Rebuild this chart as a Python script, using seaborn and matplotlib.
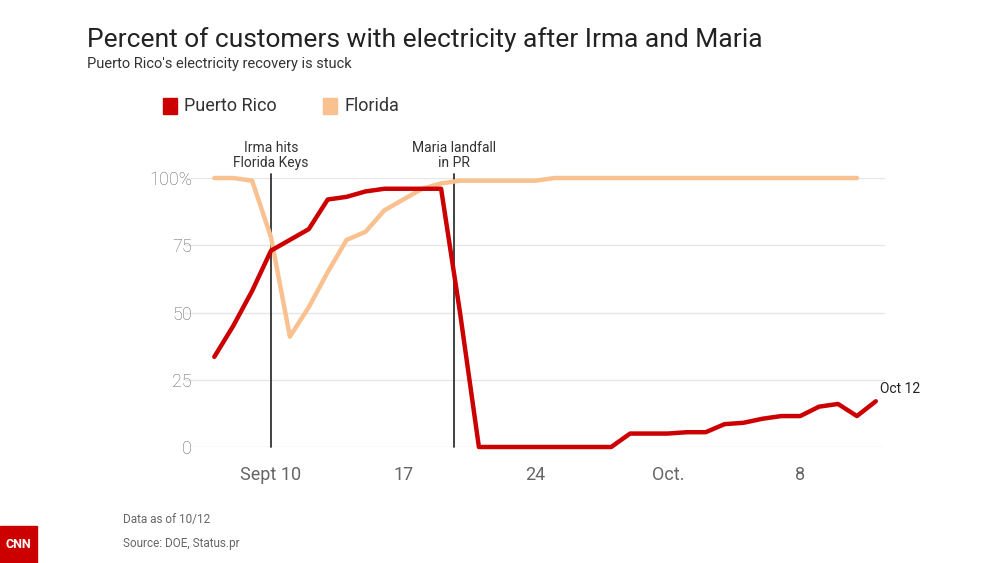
import matplotlib
matplotlib.use("Agg")
import matplotlib.pyplot as plt
import seaborn as sns
import pandas as pd
from matplotlib.patches import Rectangle

sns.set_theme(style="white")
plt.rcParams['font.family'] = ['Roboto', 'DejaVu Sans']

# day offset from Sept 10
pr_days = list(range(-3, 33))
pr_vals = [33.5, 45, 58, 73, 77, 81, 92, 93, 95, 96, 96, 96, 96, 50,
           0, 0, 0, 0, 0, 0, 0, 0, 5, 5, 5, 5.5, 5.5, 8.5, 9, 10.5, 11.5, 11.5, 15, 16, 11.5, 17]
fl_days = list(range(-3, 32))
fl_vals = [100, 100, 99, 78, 41, 52, 65, 77, 80, 88, 92, 96, 98, 99, 99, 99, 99, 99,
           100, 100, 100, 100, 100, 100, 100, 100, 100, 100, 100, 100, 100, 100, 100, 100, 100]
xtick_pos = [0, 7, 14, 21, 28]
xtick_labels = ["Sept 10", "17", "24", "Oct.", "8"]
ytick_pos = [0, 25, 50, 75, 100]
ytick_labels = ["0", "25", "50", "75", "100%"]
events = [(0, "Irma hits\nFlorida Keys"), (9.7, "Maria landfall\nin PR")]

red = "#cc0000"
orange = "#f9c18f"
gray = "#666666"

df = pd.concat([
    pd.DataFrame({"day": fl_days, "pct": fl_vals, "s": "Florida"}),
    pd.DataFrame({"day": pr_days, "pct": pr_vals, "s": "Puerto Rico"}),
])

fig = plt.figure(figsize=(10, 5.63), dpi=100)
ax = fig.add_axes([0.185, 1 - 447 / 563, 0.70, (447 - 178) / 563])
ppd = 18.9
xmin = (185 - 271) / ppd
xmax = (885 - 271) / ppd
ax.set_xlim(xmin, xmax)
ax.set_ylim(0, 100)
for y in ytick_pos[1:]:
    ax.axhline(y, color="#e6e6e6", lw=1, zorder=0)
for d, t in events:
    ax.plot([d, d], [0, 101.5], color="#333333", lw=1.3, clip_on=False, zorder=1)
    ax.text(d, 103, t, ha="center", va="bottom", fontsize=10, color="#333333", linespacing=1.1)
sns.lineplot(data=df, x="day", y="pct", hue="s", palette={"Florida": orange, "Puerto Rico": red},
             lw=3.2, ax=ax, legend=False, clip_on=False, zorder=3)
ax.text(pr_days[-1] + 0.2, pr_vals[-1] + 2, "Oct 12", fontsize=10, color="#222222", va="bottom")
ax.set_xticks(xtick_pos)
ax.set_xticklabels(xtick_labels, fontsize=13, color=gray)
ax.set_yticks(ytick_pos)
ax.set_yticklabels(ytick_labels, fontsize=13, color=gray, weight="light")
ax.tick_params(axis="x", length=0, pad=14)
ax.tick_params(axis="y", length=0, pad=-5)
for lab in ax.get_yticklabels():
    lab.set_ha("right")
ax.set_xlabel("")
ax.set_ylabel("")
sns.despine(ax=ax, left=True, bottom=True)
ax.axhline(0, color="#e6e6e6", lw=1, zorder=0)

fig.text(0.087, 1 - 40 / 563, "Percent of customers with electricity after Irma and Maria",
         fontsize=19, color="#222222", va="center")
fig.text(0.087, 1 - 64 / 563, "Puerto Rico's electricity recovery is stuck",
         fontsize=10.5, color="#333333", va="center")
# legend
for x0, col, lab in [(163, red, "Puerto Rico"), (323, orange, "Florida")]:
    fig.patches.append(Rectangle((x0 / 1000, 1 - 114 / 563), 0.014, 16 / 563,
                                 transform=fig.transFigure, color=col))
    fig.text((x0 + 21) / 1000, 1 - 106 / 563, lab, fontsize=13, color="#333333", va="center")
fig.text(0.123, 1 - 520 / 563, "Data as of 10/12", fontsize=8.5, color=gray, va="center")
fig.text(0.123, 1 - 543 / 563, "Source: DOE, Status.pr", fontsize=8.5, color=gray, va="center")
fig.patches.append(Rectangle((0, 0), 0.037, 37 / 563, transform=fig.transFigure, color=red))
fig.text(0.0185, 18 / 563, "CNN", fontsize=9, color="white", weight="bold", ha="center", va="center")

fig.savefig("out.png", dpi=100)
